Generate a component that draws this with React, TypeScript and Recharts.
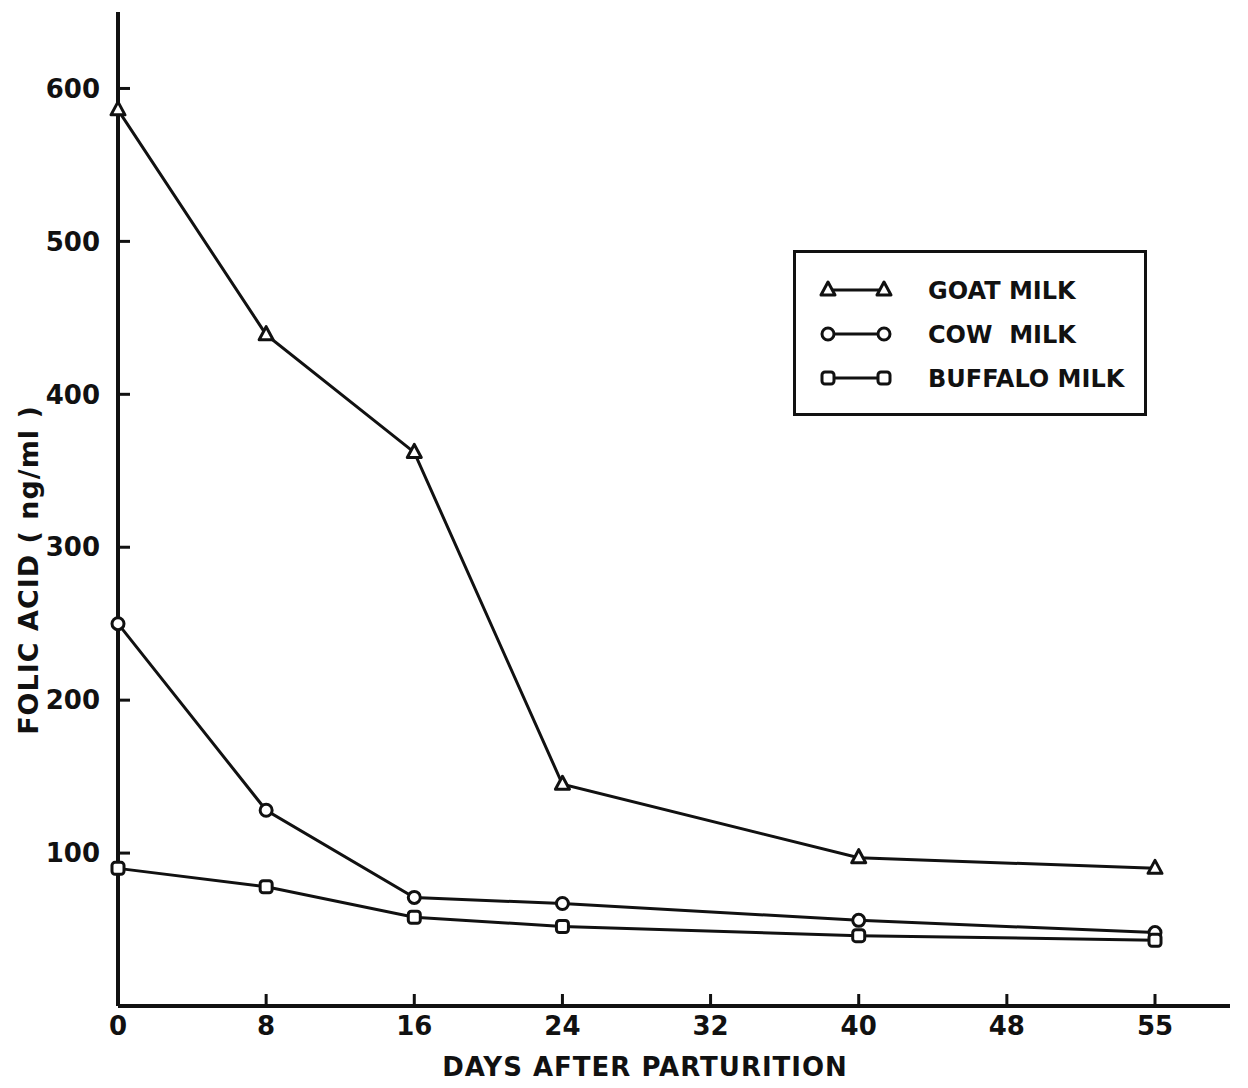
import { LineChart, Line, XAxis, YAxis, Legend } from 'recharts';

// days after parturition (tick labels, evenly spaced as in the original figure)
const days = ['0', '8', '16', '24', '32', '40', '48', '55'];
// folic acid, ng/ml (null where no sample was taken)
const goatMilk = [586, 439, 362, 145, null, 97, null, 90];
const cowMilk = [250, 128, 71, 67, null, 56, null, 48];
const buffaloMilk = [90, 78, 58, 52, null, 46, null, 43];
const yTicks = [100, 200, 300, 400, 500, 600];

const data = days.map((day, i) => ({
  day,
  goat: goatMilk[i],
  cow: cowMilk[i],
  buffalo: buffaloMilk[i],
}));

const INK = '#111';
const FONT = '"DejaVu Sans", "Liberation Sans", sans-serif';

type Shape = 'triangle' | 'circle' | 'square';

const series: { key: string; name: string; shape: Shape }[] = [
  { key: 'goat', name: 'GOAT MILK', shape: 'triangle' },
  { key: 'cow', name: 'COW  MILK', shape: 'circle' },
  { key: 'buffalo', name: 'BUFFALO MILK', shape: 'square' },
];

const Marker = ({ shape, cx, cy }: { shape: Shape; cx: number; cy: number }) => {
  if (shape === 'triangle') {
    return (
      <polygon
        points={`${cx},${cy - 8} ${cx + 7},${cy + 5} ${cx - 7},${cy + 5}`}
        fill="#fff"
        stroke={INK}
        strokeWidth={3}
        strokeLinejoin="round"
      />
    );
  }
  if (shape === 'square') {
    return <rect x={cx - 6} y={cy - 6} width={12} height={12} rx={3} fill="#fff" stroke={INK} strokeWidth={3} />;
  }
  return <circle cx={cx} cy={cy} r={6} fill="#fff" stroke={INK} strokeWidth={3} />;
};

const makeDot = (shape: Shape) => (props: any) => {
  const { cx, cy, index, value } = props;
  if (value == null || cx == null || cy == null) return <g key={`e-${index}`} />;
  return (
    <g key={`d-${index}`}>
      <Marker shape={shape} cx={cx} cy={cy} />
    </g>
  );
};

const LegendBox = () => (
  <div style={{ width: 354, height: 166, border: `3px solid ${INK}`, boxSizing: 'border-box', background: '#fff' }}>
    <svg width={348} height={160}>
      {series.map((s, i) => {
        const y = 37 + i * 44;
        return (
          <g key={s.key}>
            <line x1={32} y1={y} x2={88} y2={y} stroke={INK} strokeWidth={3} />
            <Marker shape={s.shape} cx={32} cy={y} />
            <Marker shape={s.shape} cx={88} cy={y} />
            <text
              x={132}
              y={y + 9}
              fontFamily={FONT}
              fontWeight="bold"
              fontSize={24}
              fill={INK}
              style={{ whiteSpace: 'pre' }}
            >
              {s.name}
            </text>
          </g>
        );
      })}
    </svg>
  </div>
);

const tickStyle = { fill: INK, fontSize: 26, fontWeight: 'bold', fontFamily: FONT };

export default function App() {
  return (
    <div style={{ position: 'absolute', left: 0, top: 0, background: '#fff' }}>
      <LineChart width={1248} height={1088} data={data} margin={{ top: 12, right: 18, bottom: 0, left: 0 }}>
        <XAxis
          dataKey="day"
          type="category"
          interval={0}
          padding={{ left: 0, right: 75 }}
          height={82}
          axisLine={{ stroke: INK, strokeWidth: 4 }}
          tickLine={{ stroke: INK, strokeWidth: 3 }}
          tickSize={-12}
          tickMargin={23}
          tick={tickStyle}
          label={{
            value: 'DAYS AFTER PARTURITION',
            position: 'insideBottom',
            offset: 12,
            dx: -29,
            fill: INK,
            fontSize: 26,
            fontWeight: 'bold',
            fontFamily: FONT,
            letterSpacing: 1,
          }}
        />
        <YAxis
          type="number"
          domain={[0, 650]}
          ticks={yTicks}
          width={118}
          axisLine={{ stroke: INK, strokeWidth: 4 }}
          tickLine={{ stroke: INK, strokeWidth: 3 }}
          tickSize={-12}
          tickMargin={30}
          tick={tickStyle}
          label={{
            value: 'FOLIC ACID ( ng/ml )',
            angle: -90,
            position: 'insideLeft',
            offset: 28,
            dy: 61,
            textAnchor: 'middle',
            fill: INK,
            fontSize: 27,
            fontWeight: 'bold',
            fontFamily: FONT,
            letterSpacing: 1,
          }}
        />
        <Legend
          layout="vertical"
          align="center"
          verticalAlign="middle"
          content={() => <LegendBox />}
          wrapperStyle={{ left: 793, top: 250, width: 354, height: 166 }}
        />
        {series.map((s) => (
          <Line
            key={s.key}
            dataKey={s.key}
            name={s.name}
            type="linear"
            stroke={INK}
            strokeWidth={3}
            connectNulls
            dot={makeDot(s.shape)}
            activeDot={false}
            isAnimationActive={false}
          />
        ))}
      </LineChart>
    </div>
  );
}
